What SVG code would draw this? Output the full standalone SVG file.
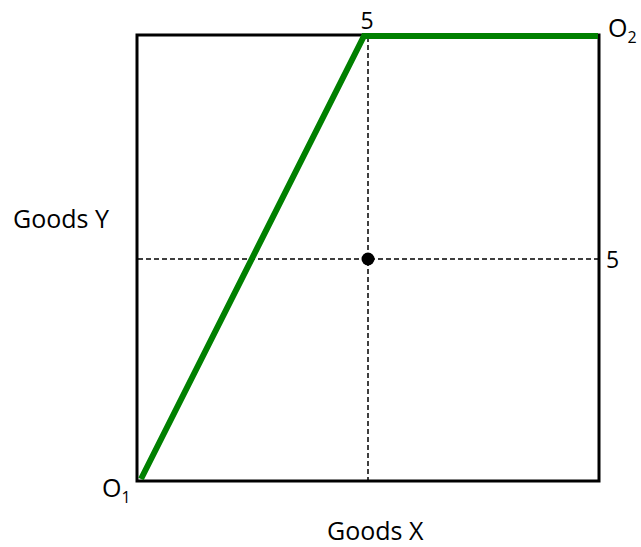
<svg xmlns="http://www.w3.org/2000/svg" width="641" height="547" viewBox="0 0 641 547">
<style>
.lbl{font-family:"Open Sans","Liberation Sans",sans-serif;fill:#000}
.dash{stroke:#000;stroke-width:1.5;stroke-dasharray:5 3;fill:none}
</style>
<rect width="641" height="547" fill="#fff"/>
<g id="box"><rect x="137" y="35" width="462" height="446" fill="none" stroke="#000" stroke-width="3"/></g>
<g id="connectors">
<line class="dash" x1="368" y1="37" x2="368" y2="481"/>
<line class="dash" x1="138" y1="259" x2="598" y2="259"/>
<polyline points="141,479 364,36 598,36" fill="none" stroke="#008000" stroke-width="6" stroke-linejoin="miter"/>
</g>
<g id="point"><circle cx="368" cy="259" r="6.5" fill="#000"/></g>
<g id="labels">
<text class="lbl" x="13" y="228" font-size="25">Goods Y</text>
<text class="lbl" x="327" y="540" font-size="25">Goods X</text>
<text class="lbl" x="367" y="29" font-size="23" text-anchor="middle">5</text>
<text class="lbl" x="606" y="268" font-size="23">5</text>
<text class="lbl" x="608" y="37" font-size="25">O<tspan font-size="16" dy="6">2</tspan></text>
<text class="lbl" x="102" y="497" font-size="25">O<tspan font-size="16" dy="6">1</tspan></text>
</g>
</svg>
